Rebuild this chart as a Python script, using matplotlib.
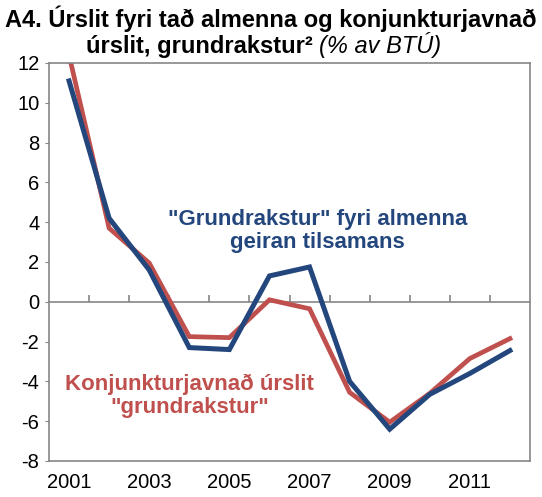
import numpy as np
import matplotlib
matplotlib.use("Agg")
import matplotlib.pyplot as plt

plt.rcParams['font.family'] = ['Liberation Sans', 'DejaVu Sans']
plt.rcParams['axes.unicode_minus'] = False

years = [2001, 2002, 2003, 2004, 2005, 2006, 2007, 2008, 2009, 2010, 2011, 2012]
grundrakstur = [11.1, 4.2, 1.6, -2.3, -2.4, 1.3, 1.75, -4.0, -6.4, -4.65, -3.6, -2.45]
konjunktur = [12.4, 3.7, 1.95, -1.75, -1.8, 0.1, -0.35, -4.55, -6.05, -4.6, -2.85, -1.85]
xlabels = ['2001', '', '2003', '', '2005', '', '2007', '', '2009', '', '2011', '']

blue = '#23467D'
red = '#C0504D'
grey = '#868686'

fig = plt.figure(figsize=(5.42, 4.97), dpi=100)
ax = fig.add_axes([49 / 542, 1 - 461 / 497, 481 / 542, 398 / 497])

x = np.arange(len(years))
ax.plot(x, konjunktur, color=red, lw=3.4, solid_joinstyle='miter')
ax.plot(x, grundrakstur, color=blue, lw=3.6, solid_joinstyle='miter')

ax.set_xlim(-0.5, len(years) - 0.5)
ax.set_ylim(-8, 12)
ax.set_yticks(range(-8, 13, 2))
ax.set_xticks(x)
ax.set_xticklabels(xlabels)
ax.tick_params(axis='x', length=0, pad=9, labelsize=14.5)
ax.tick_params(axis='y', length=3, color=grey, labelsize=14.5, pad=4)
for s in ax.spines.values():
    s.set_color(grey)
    s.set_linewidth(1.2)

# zero line with the category ticks on it
zero = ax.secondary_xaxis(8 / 20)
zero.set_xticks(np.arange(0.5, len(years) - 1, 1))
zero.tick_params(direction='in', length=5, color=grey, width=1.2, labelbottom=False)
zero.spines['bottom'].set_color(grey)
zero.spines['bottom'].set_linewidth(1.2)

ax.text(6.2, 3.55, '"Grundrakstur" fyri almenna\ngeiran tilsamans', color=blue,
        fontsize=16, fontweight='bold', ha='center', va='center', linespacing=1.15)
ax.text(3.0, -4.72, 'Konjunkturjavnað úrslit\n"grundrakstur"', color=red,
        fontsize=16, fontweight='bold', ha='center', va='center', linespacing=1.15)

fig.text(0.5, 1 - 27 / 497, 'A4. Úrslit fyri tað almenna og konjunkturjavnað',
         fontsize=17, fontweight='bold', ha='center', va='baseline')
t2 = fig.text(86 / 542, 1 - 53 / 497, 'úrslit, grundrakstur² ',
              fontsize=17, fontweight='bold', ha='left', va='baseline')
ax.annotate('(% av BTÚ)', xy=(1, 0), xycoords=t2, xytext=(0, 0), textcoords='offset points',
            fontsize=17, fontstyle='italic', ha='left', va='bottom', annotation_clip=False)

fig.savefig('out.png', dpi=100)
